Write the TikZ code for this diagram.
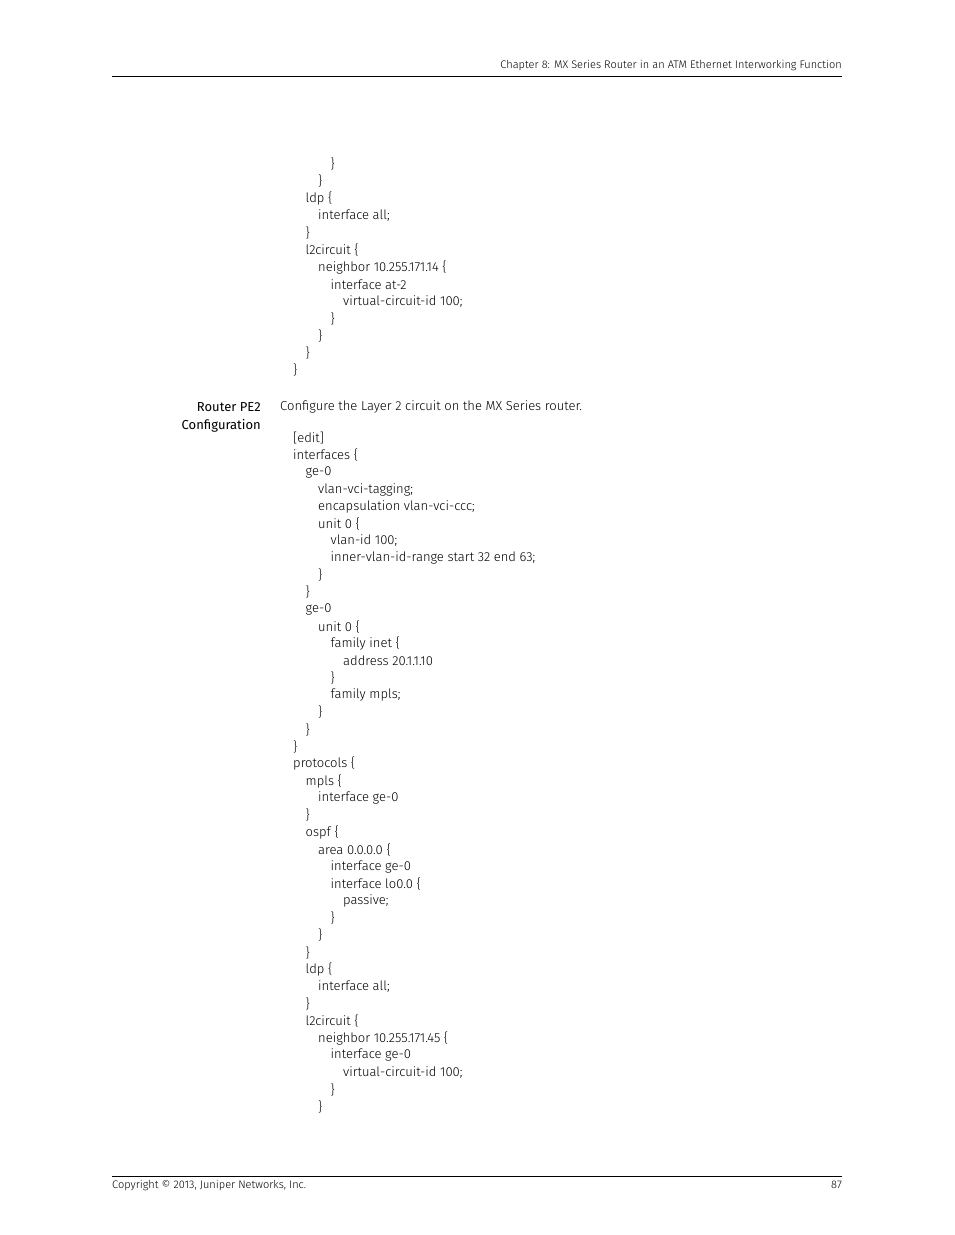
\documentclass[tikz,border=0pt]{standalone}
\usepackage{fontspec}
\setmainfont{Fira Sans Light}[BoldFont=Fira Sans]
\begin{document}
\begin{tikzpicture}[x=1pt,y=-1pt,
  code/.style={anchor=west,inner sep=0pt,font=\fontsize{13}{15}\selectfont},
  small/.style={inner sep=0pt,font=\fontsize{11}{13}\selectfont}]
\useasboundingbox (0,0) rectangle (954,1235);
\fill[white] (0,0) rectangle (954,1235);
\draw[line width=0.8pt] (112,76) -- (842,76);
\node[small,anchor=east] (hdr) at (842,65) {Chapter 8: MX Series Router in an ATM Ethernet Interworking Function};
\draw[line width=0.8pt] (112,1176) -- (842,1176);
\node[small,anchor=west] (cpy) at (112,1185) {Copyright © 2013, Juniper Networks, Inc.};
\node[small,anchor=east] (pg) at (842,1185) {87};
\foreach \lv/\t [count=\i from 0] in {3/\}, 2/\}, 1/ldp \{, 2/interface all;, 1/\}, 1/l2circuit \{, 2/neighbor 10.255.171.14 \{, 3/interface at-2/0/1.0 \{, 4/virtual-circuit-id 100;, 3/\}, 2/\}, 1/\}, 0/\}}
  \node[code] (a\i) at (293+12.5*\lv,164+17.17*\i) {\t};
\node[code,anchor=east,font=\fontsize{13}{15}\selectfont\bfseries] (h1) at (261,407) {Router PE2};
\node[code,anchor=east,font=\fontsize{13}{15}\selectfont\bfseries] (h2) at (261,426) {Configuration};
\node[code] (intro) at (280,407) {Configure the Layer 2 circuit on the MX Series router.};
\foreach \lv/\t [count=\i from 0] in {0/[edit], 0/interfaces \{, 1/ge-0/2/0 \{, 2/vlan-vci-tagging;, 2/encapsulation vlan-vci-ccc;, 2/unit 0 \{, 3/vlan-id 100;, 3/inner-vlan-id-range start 32 end 63;, 2/\}, 1/\}, 1/ge-0/2/8 \{, 2/unit 0 \{, 3/family inet \{, 4/address 20.1.1.10/24;, 3/\}, 3/family mpls;, 2/\}, 1/\}, 0/\}, 0/protocols \{, 1/mpls \{, 2/interface ge-0/2/8.0;, 1/\}, 1/ospf \{, 2/area 0.0.0.0 \{, 3/interface ge-0/2/8.0;, 3/interface lo0.0 \{, 4/passive;, 3/\}, 2/\}, 1/\}, 1/ldp \{, 2/interface all;, 1/\}, 1/l2circuit \{, 2/neighbor 10.255.171.45 \{, 3/interface ge-0/2/0.0 \{, 4/virtual-circuit-id 100;, 3/\}, 2/\}}
  \node[code] (b\i) at (293+12.5*\lv,438+17.15*\i) {\t};
\end{tikzpicture}
\end{document}
